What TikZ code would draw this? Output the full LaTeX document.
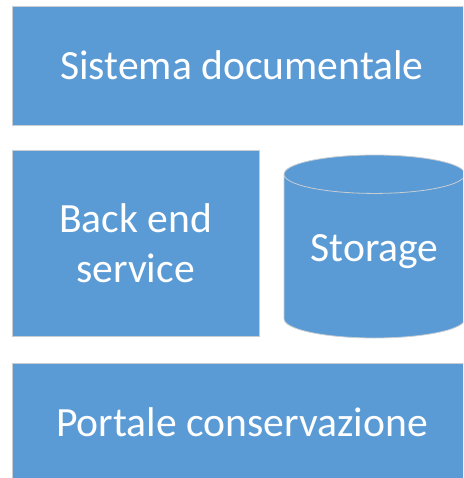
\documentclass[tikz,border=0pt]{standalone}
\usepackage{fontspec}
\setmainfont{Carlito}
\usetikzlibrary{shapes.geometric}
\definecolor{boxblue}{HTML}{5B9BD5}
\definecolor{boxline}{HTML}{C8CDD2}

\begin{document}
\begin{tikzpicture}[x=1pt, y=-1pt,
    block/.style={rectangle, fill=boxblue, draw=boxline, line width=0.8pt, outer sep=0pt, inner sep=0pt,
        text=white, align=center, font=\fontsize{41.6}{50}\selectfont}]
    \clip (0,0) rectangle (463,478);
    \fill[white] (0,0) rectangle (463,478);

    \node[block, minimum width=460pt, minimum height=119pt] (sistema) at (242, 65.5) {Sistema documentale};
    \node[block, minimum width=247pt, minimum height=186pt] (backend) at (135.5, 243) {Back end\\service};
    \node[block, cylinder, shape border rotate=90, aspect=0.3, minimum width=181pt, minimum height=183pt,
        text height=30pt, text depth=20pt, anchor=shape center] (storage) at (374.5, 246.5) {Storage};
    \node[block, minimum width=460pt, minimum height=118pt] (portale) at (242, 422) {Portale conservazione};

\end{tikzpicture}
\end{document}
